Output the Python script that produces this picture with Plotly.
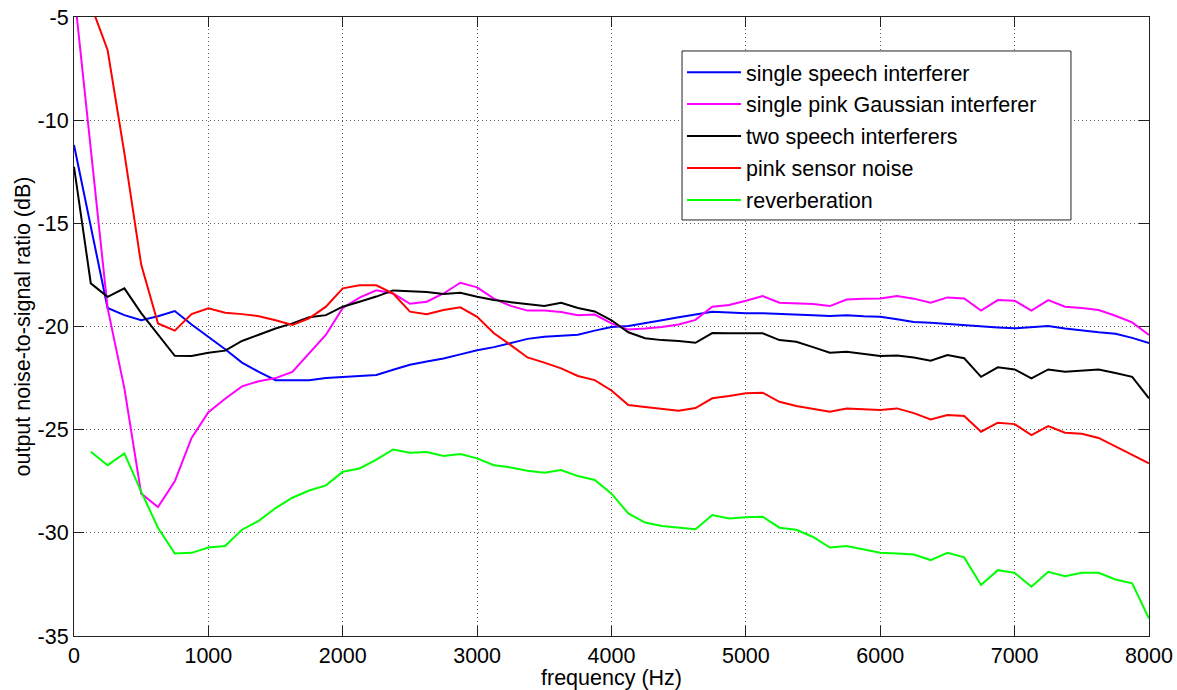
import plotly.graph_objects as go

freq = [0, 125, 250, 375, 500, 625, 750, 875, 1000, 1125, 1250, 1375, 1500, 1625, 1750, 1875,
        2000, 2125, 2250, 2375, 2500, 2625, 2750, 2875, 3000, 3125, 3250, 3375, 3500, 3625, 3750, 3875,
        4000, 4125, 4250, 4375, 4500, 4625, 4750, 4875, 5000, 5125, 5250, 5375, 5500, 5625, 5750, 5875,
        6000, 6125, 6250, 6375, 6500, 6625, 6750, 6875, 7000, 7125, 7250, 7375, 7500, 7625, 7750, 7875,
        8000]

single_speech = [-11.2, -15.1, -19.1, -19.45, -19.7, -19.5, -19.25, -19.9, -20.5, -21.1, -21.75, -22.2, -22.6, -22.6, -22.6, -22.5,
                 -22.44, -22.4, -22.35, -22.1, -21.85, -21.7, -21.55, -21.35, -21.15, -21.0, -20.8, -20.6, -20.5, -20.45, -20.4, -20.2,
                 -20.02, -19.98, -19.85, -19.7, -19.55, -19.4, -19.28, -19.32, -19.36, -19.36, -19.38, -19.4, -19.45, -19.49, -19.45, -19.5,
                 -19.53, -19.65, -19.78, -19.82, -19.88, -19.95, -20.01, -20.05, -20.09, -20.03, -19.98, -20.1, -20.2, -20.28, -20.35, -20.55,
                 -20.8]

single_pink = [-3.7, -11.4, -19.1, -23.0, -28.1, -28.75, -27.5, -25.4, -24.15, -23.5, -22.9, -22.65, -22.5, -22.2, -21.3, -20.4,
               -19.1, -18.6, -18.25, -18.4, -18.9, -18.8, -18.4, -17.88, -18.1, -18.65, -19.0, -19.23, -19.23, -19.3, -19.45, -19.42,
               -19.85, -20.15, -20.1, -20.02, -19.9, -19.68, -19.04, -18.96, -18.75, -18.52, -18.85, -18.88, -18.91, -19.01, -18.69, -18.66,
               -18.64, -18.52, -18.65, -18.85, -18.59, -18.64, -19.23, -18.72, -18.75, -19.23, -18.72, -19.04, -19.1, -19.2, -19.48, -19.8,
               -20.41]

two_speech = [-12.26, -17.91, -18.56, -18.15, -19.35, -20.4, -21.42, -21.43, -21.27, -21.17, -20.7, -20.4, -20.1, -19.85, -19.55, -19.45,
              -19.04, -18.8, -18.55, -18.25, -18.28, -18.33, -18.42, -18.36, -18.56, -18.72, -18.82, -18.9, -19.0, -18.85, -19.1, -19.27,
              -19.7, -20.28, -20.57, -20.66, -20.7, -20.79, -20.32, -20.33, -20.33, -20.33, -20.66, -20.74, -21.0, -21.27, -21.22, -21.32,
              -21.43, -21.4, -21.5, -21.66, -21.38, -21.54, -22.44, -21.98, -22.08, -22.51, -22.08, -22.19, -22.12, -22.08, -22.25, -22.44,
              -23.48]

pink_sensor = [-2.5, -4.4, -6.6, -11.6, -17.0, -19.85, -20.2, -19.4, -19.12, -19.33, -19.4, -19.5, -19.7, -19.93, -19.6, -19.04,
               -18.15, -18.0, -18.0, -18.4, -19.28, -19.4, -19.2, -19.07, -19.53, -20.33, -20.9, -21.5, -21.75, -22.03, -22.4, -22.6,
               -23.1, -23.81, -23.9, -24.0, -24.08, -23.95, -23.48, -23.37, -23.24, -23.21, -23.65, -23.85, -24.0, -24.13, -23.97, -24.0,
               -24.05, -23.97, -24.2, -24.5, -24.29, -24.34, -25.1, -24.66, -24.73, -25.26, -24.83, -25.15, -25.2, -25.4, -25.8, -26.2,
               -26.63]

reverberation = [None, -26.07, -26.72, -26.15, -28.0, -29.75, -31.0, -30.97, -30.71, -30.64, -29.85, -29.42, -28.8, -28.3, -27.95, -27.7,
                 -27.04, -26.88, -26.45, -25.96, -26.12, -26.08, -26.28, -26.18, -26.39, -26.72, -26.83, -26.99, -27.09, -26.96, -27.25, -27.44,
                 -28.1, -29.06, -29.5, -29.67, -29.75, -29.83, -29.14, -29.3, -29.25, -29.22, -29.75, -29.85, -30.2, -30.71, -30.64, -30.8,
                 -30.97, -31.0, -31.05, -31.32, -30.97, -31.19, -32.53, -31.81, -31.94, -32.61, -31.89, -32.1, -31.94, -31.94, -32.26, -32.45,
                 -34.15]

series_names = ["single speech interferer", "single pink Gaussian interferer", "two speech interferers",
                "pink sensor noise", "reverberation"]
series_colors = ["#0000FF", "#FF00FF", "#000000", "#FF0000", "#00FF00"]

x_tickvals = [0, 1000, 2000, 3000, 4000, 5000, 6000, 7000, 8000]
x_ticktext = ["0", "1000", "2000", "3000", "4000", "5000", "6000", "7000", "8000"]
y_tickvals = [-35, -30, -25, -20, -15, -10, -5]
y_ticktext = ["-35", "-30", "-25", "-20", "-15", "-10", "-5"]

FONT = "Arial, Liberation Sans, Helvetica, sans-serif"
FS = 21.5

fig = go.Figure()
for name, vals, col in zip(series_names, [single_speech, single_pink, two_speech, pink_sensor, reverberation], series_colors):
    fig.add_trace(go.Scatter(x=freq, y=vals, mode="lines", name=name, legendgroup=name,
                             line=dict(color=col, width=2), connectgaps=False))

axis_common = dict(
    showline=True, linecolor="#222222", linewidth=1, mirror="ticks",
    ticks="inside", ticklen=10, tickwidth=1, tickcolor="#222222",
    showgrid=True, gridcolor="#5a5a5a", gridwidth=1, griddash="1px,3px",
    zeroline=False, automargin=False,
    tickfont=dict(family=FONT, size=FS, color="black"),
)

# legend frame (white box with dark border) behind the legend entries
fig.add_shape(type="rect", xref="paper", yref="paper",
              x0=0.5656, x1=0.9274, y0=0.6721, y1=0.9451,
              fillcolor="white", line=dict(color="#222222", width=1), layer="above")

fig.update_layout(
    width=1177, height=690,
    margin=dict(l=74, r=28, t=17, b=54, autoexpand=False),
    paper_bgcolor="white", plot_bgcolor="white",
    font=dict(family=FONT, size=FS, color="black"),
    xaxis=dict(range=[0, 8000], tickvals=x_tickvals, ticktext=x_ticktext,
               title=dict(text="frequency (Hz)", font=dict(family=FONT, size=FS), standoff=2),
               **axis_common),
    yaxis=dict(range=[-35, -5], tickvals=y_tickvals, ticktext=y_ticktext,
               title=dict(text="output noise-to-signal ratio (dB)", font=dict(family=FONT, size=FS), standoff=1),
               **axis_common),
    legend=dict(x=0.5656, y=0.944, xanchor="left", yanchor="top",
                bgcolor="rgba(0,0,0,0)", borderwidth=0,
                font=dict(family=FONT, size=FS, color="black"),
                traceorder="grouped", tracegroupgap=1, itemwidth=54),
    showlegend=True,
)

fig.write_html("out.html", config={"displayModeBar": False},
               post_script="document.body.style.margin='0';document.body.style.overflow='hidden';")
